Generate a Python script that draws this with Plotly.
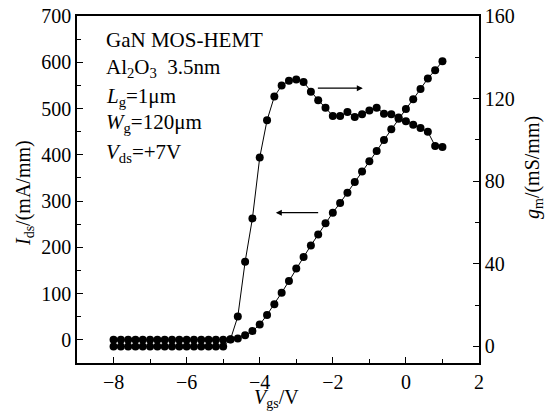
import plotly.graph_objects as go

vgs = [-8.0, -7.8, -7.6, -7.4, -7.2, -7.0, -6.8, -6.6, -6.4, -6.2, -6.0, -5.8, -5.6, -5.4, -5.2, -5.0,
       -4.8, -4.6, -4.4, -4.2, -4.0, -3.8, -3.6, -3.4, -3.2, -3.0, -2.8, -2.6, -2.4, -2.2, -2.0,
       -1.8, -1.6, -1.4, -1.2, -1.0, -0.8, -0.6, -0.4, -0.2, 0.0, 0.2, 0.4, 0.6, 0.8, 1.0]

ids = [0, 0, 0, 0, 0, 0, 0, 0, 0, 0, 0, 0, 0, 0, 0, 0,
       1, 3, 10, 19, 33, 54, 77, 102, 127, 154, 179, 204, 228, 252, 275,
       296, 318, 341, 364, 386, 408, 432, 455, 478, 499, 520, 542, 565, 583, 602]

gm = [0, 0, 0, 0, 0, 0, 0, 0, 0, 0, 0, 0, 0, 0, 0, 0,
      3.5, 14.5, 41, 62, 91.5, 109.5, 121, 126.3, 128.7, 129.2, 128, 123.3, 119.2, 115.6, 111.6,
      111.6, 113.5, 111.1, 112.4, 114.3, 115.6, 112.7, 112.4, 110.8, 109, 107.4, 105.8, 103.9, 97.1, 96.6]

x_ticks = [-8, -6, -4, -2, 0, 2]
y_ticks = [0, 100, 200, 300, 400, 500, 600, 700]
y2_ticks = [0, 40, 80, 120, 160]

FONT = "Liberation Serif"

# the page body has an 8px margin, so the figure is drawn at (8, 8)
OFF = 8
W, H = 557 - OFF, 414 - OFF
PL, PR, PT, PB = 77, 479, 16, 363          # plot area in screenshot pixels


def px(x):
    return (x - PL) / (PR - PL)


def py(y):
    return 1 - (y - PT) / (PB - PT)


fig = go.Figure()
fig.add_trace(go.Scatter(x=vgs, y=ids, mode="lines+markers",
                         line=dict(color="black", width=1),
                         marker=dict(color="black", size=8), yaxis="y"))
fig.add_trace(go.Scatter(x=vgs, y=gm, mode="lines+markers",
                         line=dict(color="black", width=1),
                         marker=dict(color="black", size=8), yaxis="y2"))

axis_common = dict(showline=True, linecolor="black", linewidth=1.5, ticks="inside",
                   ticklen=6, tickwidth=1.2, tickcolor="black", showgrid=False, zeroline=False,
                   automargin=False, ticklabeloverflow="allow",
                   tickfont=dict(family=FONT, size=20, color="black"))

fig.update_layout(
    width=W, height=H,
    margin=dict(l=PL - OFF, r=W - (PR - OFF), t=PT - OFF, b=H - (PB - OFF)),
    paper_bgcolor="white", plot_bgcolor="white",
    showlegend=False,
    font=dict(family=FONT, size=20, color="black"),
    xaxis=dict(range=[-9, 2], tickvals=x_ticks, mirror=True,
               minor=dict(dtick=1, ticks="inside", ticklen=4, tickcolor="black"),
               **axis_common),
    yaxis=dict(range=[-50, 700], tickvals=y_ticks,
               minor=dict(dtick=50, ticks="inside", ticklen=4, tickcolor="black"),
               **axis_common),
    yaxis2=dict(range=[-8, 160], tickvals=y2_ticks, overlaying="y", side="right",
                minor=dict(dtick=20, ticks="inside", ticklen=4, tickcolor="black"),
                **axis_common),
)

# axis titles
fig.add_annotation(x=px(276), y=py(398), xref="paper", yref="paper",
                   text="<i>V</i><sub>gs</sub>/V", showarrow=False, xanchor="center", yanchor="middle",
                   font=dict(family=FONT, size=20, color="black"))
fig.add_annotation(x=px(25), y=py(193), xref="paper", yref="paper",
                   text="<i>I</i><sub>ds</sub>/(mA/mm)", showarrow=False, textangle=-90,
                   xanchor="center", yanchor="middle",
                   font=dict(family=FONT, size=20, color="black"))
fig.add_annotation(x=px(533), y=py(168), xref="paper", yref="paper",
                   text="<i>g</i><sub>m</sub>/(mS/mm)", showarrow=False, textangle=-90,
                   xanchor="center", yanchor="middle",
                   font=dict(family=FONT, size=20, color="black"))

# arrows
fig.add_annotation(x=-3.56, y=275, ax=-2.36, ay=275, xref="x", yref="y", axref="x", ayref="y",
                   showarrow=True, arrowhead=2, arrowsize=1, arrowwidth=1.2, arrowcolor="black", text="")
fig.add_annotation(x=-1.18, y=544, ax=-2.45, ay=544, xref="x", yref="y", axref="x", ayref="y",
                   showarrow=True, arrowhead=2, arrowsize=1, arrowwidth=1.2, arrowcolor="black", text="")

labels = [
    ("GaN MOS-HEMT", 40),
    ("Al<sub>2</sub>O<sub>3</sub>&nbsp;&nbsp;3.5nm", 68),
    ("<i>L</i><sub>g</sub>=1μm", 97),
    ("<i>W</i><sub>g</sub>=120μm", 123),
    ("<i>V</i><sub>ds</sub>=+7V", 153),
]
for txt, yy in labels:
    fig.add_annotation(x=px(104), y=py(yy), xref="paper", yref="paper", text=txt, showarrow=False,
                       xanchor="left", yanchor="middle",
                       font=dict(family=FONT, size=21, color="black"))

fig.write_html("out.html")
